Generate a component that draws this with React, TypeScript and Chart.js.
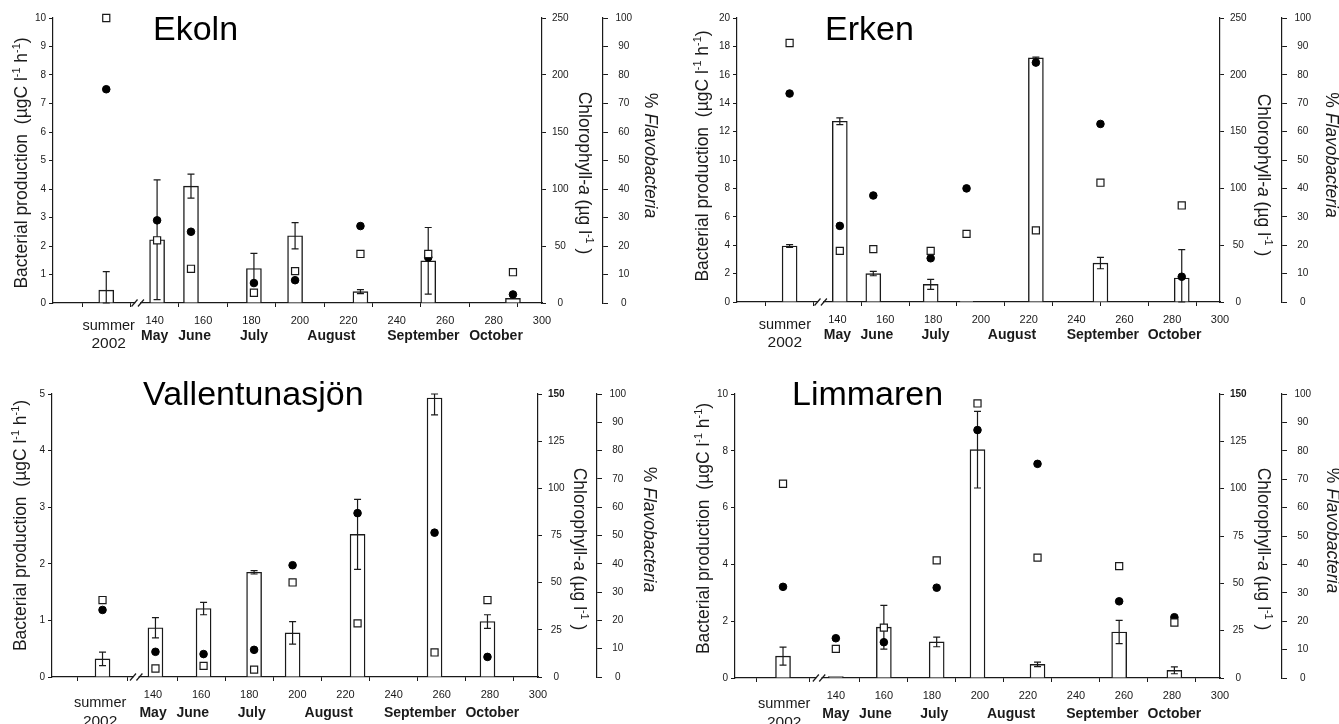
import React, { useEffect, useRef } from "react";
import { Chart, registerables } from "chart.js";

Chart.register(...registerables);

// ---------- data (day of year; first sample = "summer 2002" reference) ----------
const EKOLN_DAYS = [120, 141, 155, 181, 198, 225, 253, 288];
const EKOLN_PRODUCTION = [0.45, 2.22, 4.1, 1.21, 2.36, 0.4, 1.48, 0.16];
const EKOLN_PRODUCTION_ERR = [0.65, 2.1, 0.42, 0.53, 0.46, 0.07, 1.17, 0];
const EKOLN_CHLA = [250, 55, 30, 9, 28, 43, 43, 27];
const EKOLN_FLAVO = [75, 29, 25, 7, 8, 27, 16, 3];

const ERKEN_DAYS = [120, 141, 155, 179, 194, 223, 250, 284];
const ERKEN_PRODUCTION = [3.94, 12.73, 2.0, 1.24, 0.05, 17.19, 2.74, 1.69];
const ERKEN_PRODUCTION_ERR = [0.1, 0.24, 0.15, 0.35, 0, 0.05, 0.4, 2.0];
const ERKEN_CHLA = [228, 45, 46.5, 45, 60, 63, 105, 85];
const ERKEN_FLAVO = [73.4, 26.8, 37.5, 15.4, 40, 84.3, 62.7, 8.9];

const VALLE_DAYS = [119, 141, 161, 182, 198, 225, 257, 279];
const VALLE_PRODUCTION = [0.32, 0.87, 1.21, 1.85, 0.78, 2.52, 4.93, 0.98];
const VALLE_PRODUCTION_ERR = [0.12, 0.18, 0.11, 0.03, 0.2, 0.62, 0.3, 0.12];
const VALLE_CHLA = [40.8, 4.5, 5.9, 3.9, 50.1, 28.4, 13.0, 40.8];
const VALLE_FLAVO = [23.7, 8.9, 8.1, 9.6, 39.5, 57.9, 51.0, 7.1];

const LIMMAREN_DAYS = [118, 140, 160, 182, 199, 224, 258, 281];
const LIMMAREN_PRODUCTION = [0.77, 0.05, 1.79, 1.27, 8.04, 0.48, 1.62, 0.27];
const LIMMAREN_PRODUCTION_ERR = [0.32, 0, 0.77, 0.17, 1.35, 0.08, 0.41, 0.12];
const LIMMAREN_CHLA = [102.6, 15.4, 26.6, 62.1, 145, 63.6, 59.1, 29.3];
const LIMMAREN_FLAVO = [32.1, 14.0, 12.6, 31.8, 87.3, 75.4, 27.0, 21.4];

// axis ticks / labels
const X_TICKS = [140, 160, 180, 200, 220, 240, 260, 280, 300];
const X_MIN = 98;
const X_MAX = 300;
const BREAK_AT = 133;
const MONTHS = ["May", "June", "July", "August", "September", "October"];
const MONTH_DAYS = [140, 156.5, 181, 213, 251, 281];
const SUMMER_LABEL = ["summer", "2002"];
const FLAVO_MAX = 100;
const FLAVO_STEP = 10;

const FONT = "'Liberation Sans', Arial, Helvetica, sans-serif";
const INK = "#1a1a1a";

type Seg = { t: string; it?: boolean; sup?: boolean };

const LEFT_TITLE: Seg[] = [
  { t: "Bacterial production  (µgC l" },
  { t: "-1", sup: true },
  { t: " h" },
  { t: "-1", sup: true },
  { t: ")" },
];
const CHL_TITLE: Seg[] = [
  { t: "Chlorophyll-" },
  { t: "a", it: true },
  { t: " (µg l" },
  { t: "-1", sup: true },
  { t: " )" },
];
const FLAVO_TITLE: Seg[] = [{ t: "% " }, { t: "Flavobacteria", it: true }];

type PanelCfg = {
  name: string;
  days: number[];
  production: number[];
  err: number[];
  chla: number[];
  flavo: number[];
  yMax: number;
  yStep: number;
  chlMax: number;
  chlStep: number;
  left: number;
  top: number;
  w: number;
  h: number;
  padTop: number;
  yW: number;
  chlW: number;
  flaW: number;
  xH: number;
  titleX: number;
  titleBase: number;
  leftBase: number;
  leftY: number;
  chlBase: number;
  chlY: number;
  flaBase: number;
  flaY: number;
  summerAt: number;
  dy: { month: number; summer: number; year: number; tickPad: number };
  boldTop: boolean;
};

const PANELS: PanelCfg[] = [
  {
    name: "Ekoln", days: EKOLN_DAYS, production: EKOLN_PRODUCTION, err: EKOLN_PRODUCTION_ERR,
    chla: EKOLN_CHLA, flavo: EKOLN_FLAVO, yMax: 10, yStep: 1, chlMax: 250, chlStep: 50,
    left: 0, top: 0, w: 669, h: 362, padTop: 18, yW: 53, chlW: 61, flaW: 66, xH: 59,
    titleX: 153, titleBase: 40, leftBase: 26.7, leftY: 163, chlBase: 579, chlY: 173, flaBase: 645, flaY: 155.5,
    summerAt: 121, dy: { month: 37, summer: 27, year: 45, tickPad: 7 }, boldTop: false,
  },
  {
    name: "Erken", days: ERKEN_DAYS, production: ERKEN_PRODUCTION, err: ERKEN_PRODUCTION_ERR,
    chla: ERKEN_CHLA, flavo: ERKEN_FLAVO, yMax: 20, yStep: 2, chlMax: 250, chlStep: 50,
    left: 669, top: 0, w: 670, h: 362, padTop: 18, yW: 68, chlW: 62, flaW: 57, xH: 60,
    titleX: 156, titleBase: 40, leftBase: 39, leftY: 156, chlBase: 588.5, chlY: 175, flaBase: 656.5, flaY: 155,
    summerAt: 118, dy: { month: 37, summer: 27, year: 45, tickPad: 7 }, boldTop: false,
  },
  {
    name: "Vallentunasjön", days: VALLE_DAYS, production: VALLE_PRODUCTION, err: VALLE_PRODUCTION_ERR,
    chla: VALLE_CHLA, flavo: VALLE_FLAVO, yMax: 5, yStep: 1, chlMax: 150, chlStep: 25,
    left: 0, top: 362, w: 669, h: 362, padTop: 32, yW: 52, chlW: 59, flaW: 72, xH: 47,
    titleX: 143, titleBase: 43, leftBase: 26, leftY: 163.5, chlBase: 574, chlY: 187, flaBase: 644, flaY: 167.5,
    summerAt: 118, dy: { month: 40, summer: 30, year: 49, tickPad: 7.5 }, boldTop: true,
  },
  {
    name: "Limmaren", days: LIMMAREN_DAYS, production: LIMMAREN_PRODUCTION, err: LIMMAREN_PRODUCTION_ERR,
    chla: LIMMAREN_CHLA, flavo: LIMMAREN_FLAVO, yMax: 10, yStep: 2, chlMax: 150, chlStep: 25,
    left: 669, top: 362, w: 670, h: 362, padTop: 32, yW: 66, chlW: 62, flaW: 57, xH: 46,
    titleX: 123, titleBase: 43, leftBase: 40, leftY: 166.5, chlBase: 588.5, chlY: 187, flaBase: 658, flaY: 168.5,
    summerAt: 118.5, dy: { month: 40, summer: 30, year: 49, tickPad: 7.5 }, boldTop: true,
  },
];

function drawRich(ctx: CanvasRenderingContext2D, segs: Seg[], bx: number, cy: number, rot: number, size: number) {
  ctx.save();
  ctx.translate(bx, cy);
  ctx.rotate(rot);
  const fontFor = (s: Seg) => `${s.it ? "italic " : ""}${s.sup ? size * 0.62 : size}px ${FONT}`;
  let total = 0;
  for (const s of segs) {
    ctx.font = fontFor(s);
    total += ctx.measureText(s.t).width;
  }
  let x = -total / 2;
  ctx.textBaseline = "alphabetic";
  ctx.textAlign = "left";
  ctx.fillStyle = INK;
  for (const s of segs) {
    ctx.font = fontFor(s);
    ctx.fillText(s.t, x, s.sup ? -size * 0.4 : 0);
    x += ctx.measureText(s.t).width;
  }
  ctx.restore();
}

const errorBarPlugin = {
  id: "errorBars",
  afterDatasetDraw(chart: any, args: any) {
    const ds: any = chart.data.datasets[args.index];
    if (!ds.errors) return;
    const ys = chart.scales[args.meta.yAxisID];
    const ctx = chart.ctx as CanvasRenderingContext2D;
    ctx.save();
    ctx.strokeStyle = INK;
    ctx.lineWidth = 1.2;
    args.meta.data.forEach((bar: any, i: number) => {
      const e = ds.errors[i];
      if (!e) return;
      const v = ds.data[i].y;
      const top = ys.getPixelForValue(Math.min(v + e, ys.max));
      const bot = ys.getPixelForValue(Math.max(v - e, ys.min));
      const x = bar.x;
      ctx.beginPath();
      ctx.moveTo(x, top);
      ctx.lineTo(x, bot);
      ctx.moveTo(x - 3.5, top);
      ctx.lineTo(x + 3.5, top);
      ctx.moveTo(x - 3.5, bot);
      ctx.lineTo(x + 3.5, bot);
      ctx.stroke();
    });
    ctx.restore();
  },
};

const decorPlugin = {
  id: "decor",
  afterDraw(chart: any) {
    const cfg: PanelCfg = chart.options.plugins.decor.cfg;
    const ctx = chart.ctx as CanvasRenderingContext2D;
    const xs = chart.scales.x;
    const area = chart.chartArea;
    const by = area.bottom;
    ctx.save();
    // axis break
    const bx = xs.getPixelForValue(BREAK_AT);
    ctx.fillStyle = "#fff";
    ctx.fillRect(bx - 2.5, by - 2, 5, 4);
    ctx.strokeStyle = INK;
    ctx.lineWidth = 1.2;
    for (const dx of [-3.2, 3.2]) {
      ctx.beginPath();
      ctx.moveTo(bx + dx - 3, by + 3.5);
      ctx.lineTo(bx + dx + 3, by - 3.5);
      ctx.stroke();
    }
    // panel title
    ctx.fillStyle = "#000";
    ctx.font = `34px ${FONT}`;
    ctx.textAlign = "left";
    ctx.textBaseline = "alphabetic";
    ctx.fillText(cfg.name, cfg.titleX, cfg.titleBase);
    // month labels
    ctx.fillStyle = INK;
    ctx.font = `bold 14px ${FONT}`;
    ctx.textAlign = "center";
    MONTHS.forEach((m, i) => {
      ctx.fillText(m, xs.getPixelForValue(MONTH_DAYS[i]), by + cfg.dy.month);
    });
    // summer 2002
    const sx = xs.getPixelForValue(cfg.summerAt);
    ctx.font = `14.5px ${FONT}`;
    ctx.fillText(SUMMER_LABEL[0], sx, by + cfg.dy.summer);
    ctx.font = `15.5px ${FONT}`;
    ctx.fillText(SUMMER_LABEL[1], sx, by + cfg.dy.year);
    // axis titles
    drawRich(ctx, LEFT_TITLE, cfg.leftBase, cfg.leftY, -Math.PI / 2, 17.5);
    drawRich(ctx, CHL_TITLE, cfg.chlBase, cfg.chlY, Math.PI / 2, 17.5);
    drawRich(ctx, FLAVO_TITLE, cfg.flaBase, cfg.flaY, Math.PI / 2, 17.5);
    ctx.restore();
  },
};

function buildChart(canvas: HTMLCanvasElement, cfg: PanelCfg) {
  const tickFont = { family: FONT, size: 10 };
  const gridCommon = { drawOnChartArea: false, drawTicks: true, color: INK, lineWidth: 1 };
  const borderCommon = { display: true, color: INK, width: 1.2 };
  return new Chart(canvas, {
    type: "bar",
    data: {
      datasets: [
        {
          type: "scatter",
          label: "Chlorophyll-a",
          data: cfg.days.map((d, i) => ({ x: d, y: cfg.chla[i] })),
          yAxisID: "y1",
          pointStyle: "rect",
          pointRadius: 5,
          backgroundColor: "#fff",
          borderColor: INK,
          borderWidth: 1.2,
          order: 0,
          clip: false,
        } as any,
        {
          type: "scatter",
          label: "% Flavobacteria",
          data: cfg.days.map((d, i) => ({ x: d, y: cfg.flavo[i] })),
          yAxisID: "y2",
          pointStyle: "circle",
          pointRadius: 3.8,
          backgroundColor: "#000",
          borderColor: "#000",
          borderWidth: 1,
          order: 1,
          clip: false,
        } as any,
        {
          type: "bar",
          label: "Bacterial production",
          data: cfg.days.map((d, i) => ({ x: d, y: cfg.production[i] })),
          errors: cfg.err,
          yAxisID: "y",
          backgroundColor: "#fff",
          borderColor: INK,
          borderWidth: 1.4,
          barThickness: 15,
          order: 2,
        } as any,
      ],
    },
    options: {
      animation: false,
      responsive: false,
      maintainAspectRatio: false,
      devicePixelRatio: 1,
      events: [],
      layout: { padding: { top: cfg.padTop, left: 0, right: 0, bottom: 0 } },
      plugins: {
        legend: { display: false },
        tooltip: { enabled: false },
        decor: { cfg },
      } as any,
      scales: {
        x: {
          type: "linear",
          position: "bottom",
          min: X_MIN,
          max: X_MAX,
          offset: false,
          afterBuildTicks: (s: any) => {
            s.ticks = [cfg.days[0], ...X_TICKS].map((v) => ({ value: v }));
          },
          afterFit: (s: any) => {
            s.height = cfg.xH;
          },
          grid: { ...gridCommon, tickLength: 4 },
          border: borderCommon,
          ticks: {
            font: { family: FONT, size: 11 },
            color: INK,
            padding: cfg.dy.tickPad,
            maxRotation: 0,
            autoSkip: false,
            callback: (v: any) => (Number(v) >= 140 ? String(v) : ""),
          },
        },
        y: {
          type: "linear",
          position: "left",
          min: 0,
          max: cfg.yMax,
          afterFit: (s: any) => {
            s.width = cfg.yW;
          },
          grid: { ...gridCommon, tickLength: 4 },
          border: borderCommon,
          ticks: { stepSize: cfg.yStep, font: tickFont, color: INK, padding: 3 },
        },
        y1: {
          type: "linear",
          position: "right",
          weight: 0,
          min: 0,
          max: cfg.chlMax,
          afterFit: (s: any) => {
            s.width = cfg.chlW;
          },
          grid: { ...gridCommon, tickLength: 4 },
          border: borderCommon,
          ticks: {
            stepSize: cfg.chlStep,
            crossAlign: "center",
            color: INK,
            padding: 6,
            font: (c: any) =>
              cfg.boldTop && c.tick && c.tick.value === cfg.chlMax
                ? { family: FONT, size: 10, weight: "bold" }
                : tickFont,
          },
        },
        y2: {
          type: "linear",
          position: "right",
          weight: 1,
          min: 0,
          max: FLAVO_MAX,
          afterFit: (s: any) => {
            s.width = cfg.flaW;
          },
          grid: { ...gridCommon, tickLength: 5 },
          border: borderCommon,
          ticks: { stepSize: FLAVO_STEP, crossAlign: "center", color: INK, padding: 7.5, font: tickFont },
        },
      } as any,
    },
    plugins: [errorBarPlugin, decorPlugin],
  } as any);
}

function Panel({ cfg }: { cfg: PanelCfg }) {
  const ref = useRef<HTMLCanvasElement>(null);
  useEffect(() => {
    const chart = buildChart(ref.current as HTMLCanvasElement, cfg);
    return () => chart.destroy();
  }, [cfg]);
  return (
    <canvas
      ref={ref}
      width={cfg.w}
      height={cfg.h}
      style={{ position: "absolute", left: cfg.left, top: cfg.top, width: cfg.w, height: cfg.h }}
    />
  );
}

export default function App() {
  return (
    <div
      style={{
        position: "fixed",
        left: 0,
        top: 0,
        width: 1339,
        height: 724,
        background: "#fff",
        overflow: "hidden",
      }}
    >
      {PANELS.map((p) => (
        <Panel key={p.name} cfg={p} />
      ))}
    </div>
  );
}
